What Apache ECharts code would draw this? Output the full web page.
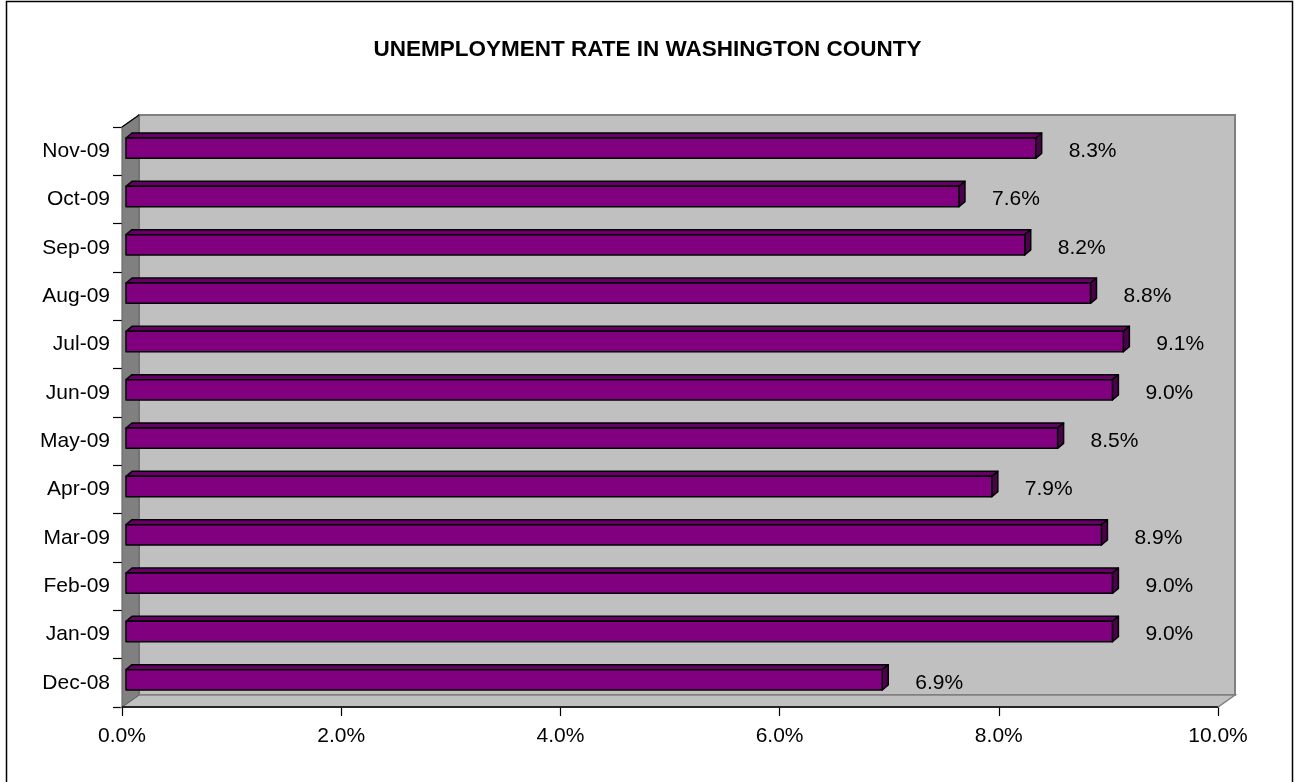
<!DOCTYPE html>
<html>
<head>
<meta charset="utf-8">
<script src="https://cdn.jsdelivr.net/npm/echarts@6/dist/echarts.min.js"></script>
<style>
html,body{margin:0;padding:0;background:#fff;}
#c{width:1295px;height:782px;}
</style>
</head>
<body>
<div id="c"></div>
<script>
var titleText = 'UNEMPLOYMENT RATE IN WASHINGTON COUNTY';
var categories = ['Dec-08','Jan-09','Feb-09','Mar-09','Apr-09','May-09','Jun-09','Jul-09','Aug-09','Sep-09','Oct-09','Nov-09'];
var rates = [6.9, 9.0, 9.0, 8.9, 7.9, 8.5, 9.0, 9.1, 8.8, 8.2, 7.6, 8.3];
var xTicks = [0, 2, 4, 6, 8, 10];

var FONT = 'Liberation Sans, Arial, sans-serif';
var chart = echarts.init(document.getElementById('c'));

var DEPTH_X = 17, DEPTH_Y = 12;

function wallsRender(params, api) {
  var p0 = api.coord([0, 0]);
  var bandH = api.size([0, 1])[1];
  var left = p0[0];
  var bottom = p0[1] + bandH / 2;
  var pr = api.coord([xTicks[xTicks.length - 1], categories.length - 1]);
  var right = pr[0];
  var top = pr[1] - bandH / 2;
  var dx = DEPTH_X, dy = DEPTH_Y;
  return {
    type: 'group',
    children: [
      { type: 'rect', shape: { x: left + dx, y: top - dy, width: right - left, height: bottom - top },
        style: { fill: '#C0C0C0', stroke: '#808080', lineWidth: 2 } },
      { type: 'polygon', shape: { points: [[left, bottom], [left + dx, bottom - dy], [right + dx, bottom - dy], [right, bottom]] },
        style: { fill: '#C0C0C0', stroke: '#808080', lineWidth: 1.5 } },
      { type: 'polygon', shape: { points: [[left, top], [left + dx, top - dy], [left + dx, bottom - dy], [left, bottom]] },
        style: { fill: '#808080', stroke: '#666666', lineWidth: 1 } },
      { type: 'line', shape: { x1: left, y1: top, x2: left + dx, y2: top - dy },
        style: { stroke: '#000', lineWidth: 1.2 } },
      { type: 'line', shape: { x1: left, y1: bottom, x2: right, y2: bottom },
        style: { stroke: '#000', lineWidth: 1.5 } }
    ]
  };
}

function barRender(params, api) {
  var v = api.value(0);
  var idx = api.value(1);
  var c0 = api.coord([0, idx]);
  var cv = api.coord([v, idx]);
  var bandH = api.size([0, 1])[1];
  var h = bandH * 0.42;
  var ox = 4, oy = -3;
  var x0 = c0[0] + ox, x1 = cv[0] + ox;
  var yT = c0[1] + oy - h / 2, yB = c0[1] + oy + h / 2;
  var d = 6, dd = 5;
  var st = { stroke: '#000', lineWidth: 1.5, lineJoin: 'round' };
  return {
    type: 'group',
    children: [
      { type: 'polygon', shape: { points: [[x0, yT], [x0 + d, yT - dd], [x1 + d, yT - dd], [x1, yT]] },
        style: Object.assign({ fill: '#660066' }, st) },
      { type: 'polygon', shape: { points: [[x1, yT], [x1 + d, yT - dd], [x1 + d, yB - dd], [x1, yB]] },
        style: Object.assign({ fill: '#4d004d' }, st) },
      { type: 'rect', shape: { x: x0, y: yT, width: x1 - x0, height: h },
        style: Object.assign({ fill: '#800080' }, st) },
      { type: 'text', style: { x: x1 + 33, y: c0[1], text: v.toFixed(1) + '%',
        font: '21px ' + FONT, fill: '#000', textAlign: 'left', textVerticalAlign: 'middle' } }
    ]
  };
}

var barData = rates.map(function (r, i) { return [r, i]; });

chart.setOption({
  animation: false,
  backgroundColor: '#ffffff',
  title: {
    text: titleText, left: 'center', top: 33,
    textStyle: { fontFamily: FONT, fontSize: 22.5, fontWeight: 'bold', color: '#000' }
  },
  graphic: [
    { type: 'rect', shape: { x: 6.5, y: 1.5, width: 1286, height: 800 },
      style: { fill: 'none', stroke: '#000', lineWidth: 1.5 }, silent: true }
  ],
  grid: { left: 122, right: 77, top: 127, bottom: 75 },
  xAxis: {
    type: 'value', min: 0, max: 10, interval: 2,
    axisLine: { show: false },
    axisTick: { show: true, length: 9, lineStyle: { color: '#000', width: 1.2 } },
    splitLine: { show: false },
    axisLabel: { margin: 19, fontFamily: FONT, fontSize: 21, color: '#000',
      formatter: function (v) { return v.toFixed(1) + '%'; } }
  },
  yAxis: {
    type: 'category', data: categories,
    axisLine: { show: true, lineStyle: { color: '#000', width: 1.2 } },
    axisTick: { show: true, length: 9, alignWithLabel: false, lineStyle: { color: '#000', width: 1.2 } },
    axisLabel: { margin: 12, fontFamily: FONT, fontSize: 21, color: '#000' }
  },
  series: [
    { type: 'custom', renderItem: wallsRender, data: [[0, 0]], z: 1, silent: true, clip: false },
    { type: 'custom', renderItem: barRender, data: barData, encode: { x: 0, y: 1 }, z: 3, clip: false }
  ]
});
</script>
</body>
</html>
